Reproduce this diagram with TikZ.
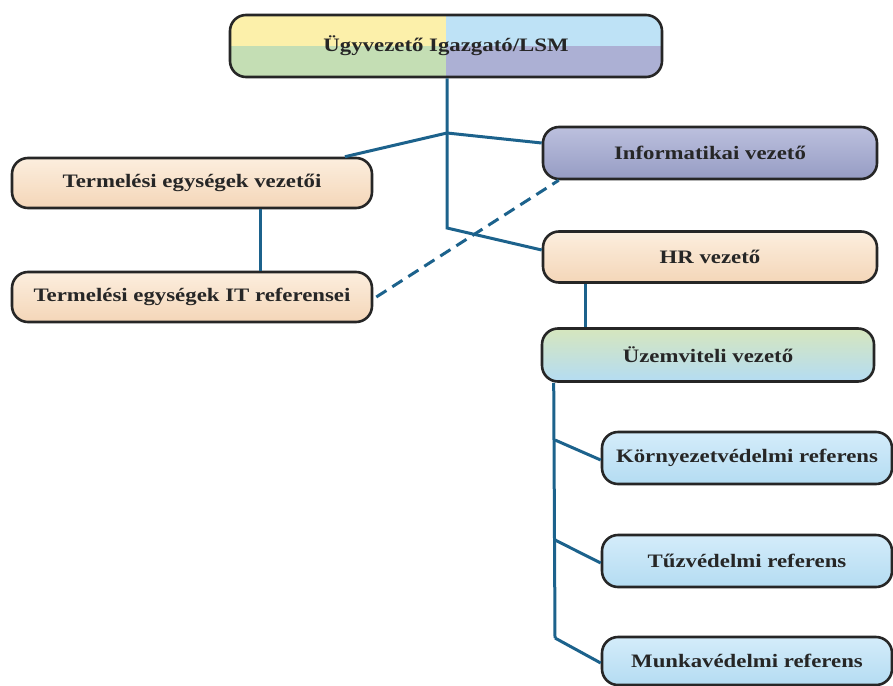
\documentclass[tikz,border=0pt]{standalone}
\usepackage{fontspec}
\setmainfont[FakeStretch=1.2]{Liberation Serif}
\usetikzlibrary{positioning}
\definecolor{linkblue}{RGB}{28,98,140}
\definecolor{peachtop}{RGB}{252,238,222}
\definecolor{peachbot}{RGB}{244,214,184}
\definecolor{lavtop}{RGB}{188,192,222}
\definecolor{lavbot}{RGB}{150,156,196}
\definecolor{skytop}{RGB}{212,236,250}
\definecolor{skybot}{RGB}{180,220,242}
\definecolor{mintop}{RGB}{214,230,190}
\definecolor{cyellow}{RGB}{252,240,170}
\definecolor{cgreen}{RGB}{196,222,180}
\definecolor{cblue}{RGB}{190,226,246}
\definecolor{clav}{RGB}{172,176,212}
\tikzset{orgbox/.style={rectangle,rounded corners=16pt,draw=black!85,line width=2.6pt,
inner sep=2pt,minimum height=52pt,minimum width=334pt,text=black!85,
font=\fontsize{19}{22}\selectfont\bfseries}}
\tikzset{orgpeach/.style={orgbox,top color=peachtop,bottom color=peachbot}}
\tikzset{orglav/.style={orgbox,top color=lavtop,bottom color=lavbot}}
\tikzset{orgsky/.style={orgbox,top color=skytop,bottom color=skybot,minimum width=290pt}}
\tikzset{link/.style={draw=linkblue,line width=3pt}}

\begin{document}
\begin{tikzpicture}[x=1pt,y=-1pt]
    \useasboundingbox (0,0) rectangle (893,685);

    \node[orgbox,minimum width=432pt,minimum height=62pt,path picture={
        \fill[cyellow,sharp corners] (path picture bounding box.north west) rectangle (path picture bounding box.center);
        \fill[cblue,sharp corners] (path picture bounding box.north east) rectangle (path picture bounding box.center);
        \fill[cgreen,sharp corners] (path picture bounding box.south west) rectangle (path picture bounding box.center);
        \fill[clav,sharp corners] (path picture bounding box.south east) rectangle (path picture bounding box.center);
        }] (boxTop) at (446,46) {Ügyvezető Igazgató/LSM};

    \node[orglav] (boxInfo) at (710,153) {Informatikai vezető};
    \node[orgpeach,minimum width=360pt,minimum height=50pt] (boxProd) at (192,183) {Termelési egységek vezetői};
    \node[orgpeach,minimum width=360pt,minimum height=50pt] (boxProdIT) at (192,297) {Termelési egységek IT referensei};
    \node[orgpeach,minimum height=51pt] (boxHR) at (710,257) {HR vezető};
    \node[orgbox,top color=mintop,bottom color=skybot,minimum width=332pt,minimum height=53pt] (boxOps) at (708,355) {Üzemviteli vezető};

    \node[orgsky] (boxEnv) at (747,458) {Környezetvédelmi referens};
    \node[orgsky] (boxFire) at (747,561) {Tűzvédelmi referens};
    \node[orgsky,minimum height=48pt] (boxSafety) at (747,661) {Munkavédelmi referens};

    % main trunk
    \coordinate (split) at (447,133);
    \coordinate (bend) at (447,228);
    \draw[link] (boxTop.south -| split) -- (split) -- (bend) -- ([yshift=7pt]boxHR.west);
    \draw[link] ([xshift=153pt]boxProd.north) -- (split) -- ([yshift=10pt]boxInfo.west);
    \draw[link] ([xshift=68pt]boxProd.south) -- ([xshift=68pt]boxProdIT.north);
    \draw[link,dashed,dash pattern=on 12pt off 7pt] ([xshift=3pt]boxProdIT.east) -- ([xshift=17pt]boxInfo.south west);

    % operations branch
    \draw[link] ([xshift=-125pt]boxHR.south) -- ([xshift=-125pt]boxHR.south |- boxOps.north);
    \coordinate (trunkTop) at ([xshift=13pt]boxOps.south west);
    \coordinate (forkA) at (555,440);
    \coordinate (forkB) at (555,540);
    \coordinate (forkC) at (555,638);
    \draw[link] (trunkTop) -- (forkC);
    \foreach \fork/\target in {forkA/boxEnv, forkB/boxFire, forkC/boxSafety}
        \draw[link] (\fork) -- ([yshift=-2pt]\target.west);

\end{tikzpicture}
\end{document}
